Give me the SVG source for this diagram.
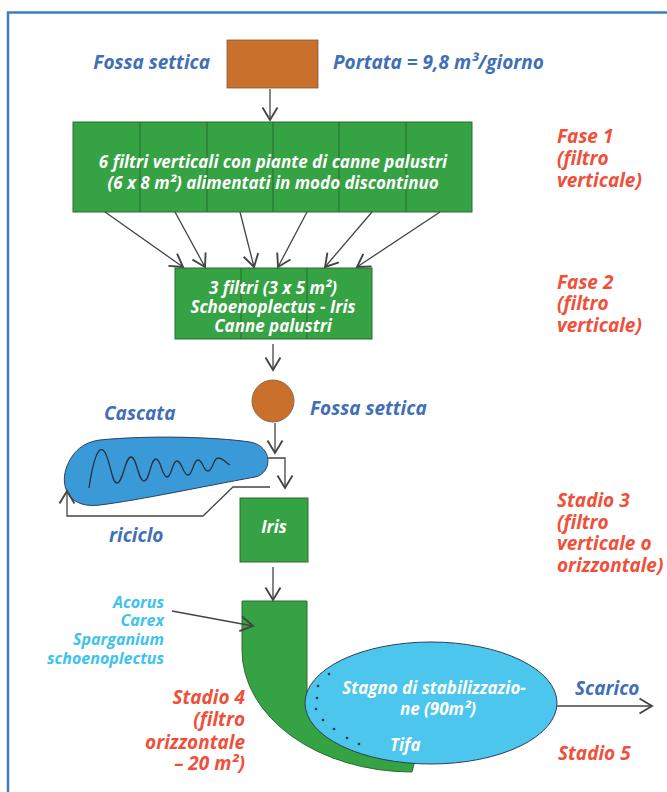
<svg xmlns="http://www.w3.org/2000/svg" width="667" height="792" viewBox="0 0 667 792">
  <style>
    text { font-family: "Open Sans", "Noto Sans", "DejaVu Sans", sans-serif; font-style: italic; font-weight: 700; }
    .blue { fill: #3f6fb6; font-size: 19px; }
    .red { fill: #f0503a; font-size: 19px; }
    .cyan { fill: #3ec3ec; font-size: 16px; }
    .white { fill: #ffffff; font-size: 17px; }
    .conn { fill: none; stroke: #444; stroke-width: 1.3; }
    .green { fill: #35a243; stroke: #2c6b33; stroke-width: 1; }
    .div { stroke: #2a6a30; stroke-width: 1; }
  </style>
  <defs>
    <marker id="arr" markerUnits="userSpaceOnUse" markerWidth="20" markerHeight="20" viewBox="-12 -8 16 16" refX="0" refY="0" orient="auto">
      <path d="M-10,-6 L0,0 L-10,6" fill="none" stroke="#444" stroke-width="1.5"/>
    </marker>
  </defs>

  <rect width="667" height="792" fill="#ffffff"/>
  <!-- frame -->
  <path d="M8,792 V12.5 H667" fill="none" stroke="#3e7ec2" stroke-width="2.5"/>

  <!-- top septic tank -->
  <g id="fossa-top">
    <rect x="227" y="40" width="91" height="48" fill="#c8702c" stroke="#7a5a40" stroke-width="0.8"/>
    <text class="blue" x="210" y="69" text-anchor="end">Fossa settica</text>
    <text class="blue" x="333" y="69">Portata = 9,8 m³/giorno</text>
  </g>

  <!-- phase 1 filters -->
  <g id="fase1">
    <rect class="green" x="73" y="122" width="399" height="90"/>
    <line class="div" x1="140" y1="122" x2="140" y2="212"/>
    <line class="div" x1="207" y1="122" x2="207" y2="212"/>
    <line class="div" x1="273" y1="122" x2="273" y2="212"/>
    <line class="div" x1="339" y1="122" x2="339" y2="212"/>
    <line class="div" x1="406" y1="122" x2="406" y2="212"/>
    <text class="white" x="273" y="168" text-anchor="middle">6 filtri verticali con piante di canne palustri</text>
    <text class="white" x="273" y="189" text-anchor="middle">(6 x 8 m²) alimentati in modo discontinuo</text>
  </g>
  <g id="fase1-label">
    <text class="red" x="557" y="143">Fase 1</text>
    <text class="red" x="557" y="165">(filtro</text>
    <text class="red" x="557" y="187">verticale)</text>
  </g>

  <!-- phase 2 filters -->
  <g id="fase2">
    <rect class="green" x="175" y="268" width="197" height="71"/>
    <line class="div" x1="241" y1="268" x2="241" y2="339"/>
    <line class="div" x1="307" y1="268" x2="307" y2="339"/>
    <text class="white" x="273" y="294" text-anchor="middle">3 filtri (3 x 5 m²)</text>
    <text class="white" x="273" y="313" text-anchor="middle">Schoenoplectus - Iris</text>
    <text class="white" x="273" y="332" text-anchor="middle">Canne palustri</text>
  </g>
  <g id="fase2-label">
    <text class="red" x="557" y="289">Fase 2</text>
    <text class="red" x="557" y="310">(filtro</text>
    <text class="red" x="557" y="332">verticale)</text>
  </g>

  <!-- second septic tank -->
  <g id="fossa-mid">
    <circle cx="273" cy="401" r="21" fill="#c8702c" stroke="#7a5a40" stroke-width="0.8"/>
    <text class="blue" x="310" y="415">Fossa settica</text>
  </g>

  <!-- cascade basin -->
  <g id="cascata">
    <path d="M100,440 C150,435 215,437 250,442 C273,446 273,473 255,477 C200,487 140,500 100,505 C70,509 60,488 66,469 C72,451 84,442 100,440 Z" fill="#3a9ad8" stroke="#2f3f5a" stroke-width="1"/>
    <path d="M89,488 C93,460 98,447 103,450 C110,455 111,483 117,483 C123,483 125,457 131,457 C137,457 138,481 144,481 C150,481 150,459 156,459 C161,459 162,477 167,477 C172,477 172,461 177,461 C182,461 183,475 188,475 C193,475 193,460 198,460 C203,460 203,471 208,471 C213,471 213,458 218,458 C223,458 225,462 230,465" fill="none" stroke="#2a3040" stroke-width="1.3"/>
    <text class="blue" x="104" y="420">Cascata</text>
    <text class="blue" x="109" y="542">riciclo</text>
  </g>

  <!-- stage 3 -->
  <g id="stadio3">
    <rect class="green" x="240" y="498" width="68" height="64"/>
    <text class="white" x="274" y="533" text-anchor="middle">Iris</text>
  </g>
  <g id="stadio3-label">
    <text class="red" x="557" y="507">Stadio 3</text>
    <text class="red" x="557" y="529">(filtro</text>
    <text class="red" x="557" y="550">verticale o</text>
    <text class="red" x="557" y="572">orizzontale)</text>
  </g>

  <!-- stage 4 horizontal filter -->
  <g id="stadio4">
    <path class="green" d="M242,601 H307 V700 L420,740 L412,772 A170,122 0 0 1 242,650 Z"/>
    <text class="cyan" x="164" y="608" text-anchor="end">Acorus</text>
    <text class="cyan" x="164" y="626" text-anchor="end">Carex</text>
    <text class="cyan" x="164" y="645" text-anchor="end">Sparganium</text>
    <text class="cyan" x="164" y="664" text-anchor="end">schoenoplectus</text>
  </g>
  <g id="stadio4-label">
    <text class="red" x="245" y="704" text-anchor="end">Stadio 4</text>
    <text class="red" x="245" y="726" text-anchor="end">(filtro</text>
    <text class="red" x="245" y="749" text-anchor="end">orizzontale</text>
    <text class="red" x="245" y="770" text-anchor="end">– 20 m²)</text>
  </g>

  <!-- stage 5 pond -->
  <g id="stadio5">
    <ellipse cx="431" cy="703" rx="126" ry="61" fill="#4cc6ec" stroke="#2f3f5a" stroke-width="1"/>
    <g fill="#23324a">
      <circle cx="329" cy="674" r="1.3"/>
      <circle cx="318" cy="686" r="1.3"/>
      <circle cx="317" cy="698" r="1.3"/>
      <circle cx="316" cy="709" r="1.3"/>
      <circle cx="323" cy="720" r="1.3"/>
      <circle cx="334" cy="729" r="1.3"/>
      <circle cx="347" cy="738" r="1.3"/>
      <circle cx="359" cy="744" r="1.3"/>
    </g>
    <text class="white" x="434" y="694" text-anchor="middle">Stagno di stabilizzazio-</text>
    <text class="white" x="438" y="715" text-anchor="middle">ne (90m²)</text>
    <text class="white" x="390" y="751">Tifa</text>
    <text class="blue" x="575" y="695">Scarico</text>
    <text class="red" x="558" y="760">Stadio 5</text>
  </g>

  <!-- connectors -->
  <g id="connectors" class="conn">
    <line class="conn" x1="270" y1="89" x2="270" y2="120" marker-end="url(#arr)"/>
    <line class="conn" x1="105" y1="212" x2="183" y2="267" marker-end="url(#arr)"/>
    <line class="conn" x1="175" y1="212" x2="205" y2="267" marker-end="url(#arr)"/>
    <line class="conn" x1="240" y1="212" x2="254" y2="267" marker-end="url(#arr)"/>
    <line class="conn" x1="307" y1="212" x2="278" y2="267" marker-end="url(#arr)"/>
    <line class="conn" x1="372" y1="212" x2="325" y2="267" marker-end="url(#arr)"/>
    <line class="conn" x1="440" y1="212" x2="357" y2="267" marker-end="url(#arr)"/>
    <line class="conn" x1="273" y1="344" x2="273" y2="370" marker-end="url(#arr)"/>
    <line class="conn" x1="275" y1="423" x2="275" y2="453" marker-end="url(#arr)"/>
    <polyline class="conn" points="268,458 285,458 285,488" marker-end="url(#arr)"/>
    <polyline class="conn" points="270,487 233,487 203,516 67,516 67,491" marker-end="url(#arr)"/>
    <line class="conn" x1="273" y1="567" x2="273" y2="600" marker-end="url(#arr)"/>
    <line class="conn" x1="172" y1="611" x2="253" y2="626" marker-end="url(#arr)"/>
    <line class="conn" x1="557" y1="706" x2="652" y2="706" marker-end="url(#arr)"/>
  </g>
</svg>
